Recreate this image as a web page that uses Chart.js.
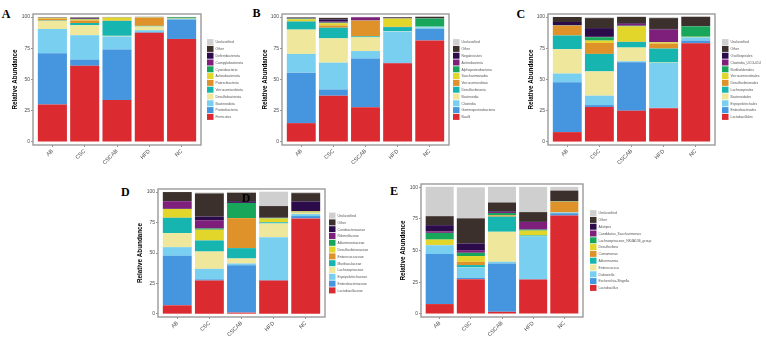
<!DOCTYPE html>
<html>
<head>
<meta charset="utf-8">
<script src="https://cdn.jsdelivr.net/npm/chart.js@4"></script>
<style>
  body { margin: 0; background: #fff; width: 767px; height: 349px; overflow: hidden; position: relative; }
  canvas { position: absolute; }
  .tag { position: absolute; font: bold 12px "Liberation Serif", serif; line-height: 12px; color: #000; }
</style>
</head>
<body>
<div class="tag" style="left:1.7px;top:7.9px">A</div>
<div class="tag" style="left:252.5px;top:7.2px">B</div>
<div class="tag" style="left:516.5px;top:7.9px">C</div>
<div class="tag" style="left:121px;top:186px">D</div>
<div class="tag" style="left:390px;top:184.6px">E</div>
<div class="tag" style="left:241.7px;top:191.9px;z-index:2">D</div>
<script>
// groups on the x axis and y tick values
const groups = ['AB', 'CSC', 'CSCAB', 'HFD', 'NC'];
const yTicks = [0, 25, 50, 75, 100];

// one colour per stack level, bottom to top
const fill = ['#dc2a31', '#4596de', '#78cff0', '#efe79b', '#17b5b0', '#e0922a',
              '#e2d62a', '#17a65a', '#7e1f7c', '#2b0b4a', '#3b302c', '#cfcfcf'];

// A - phylum (rows bottom to top, columns AB, CSC, CSCAB, HFD, NC)
const phylumNames = ['Firmicutes', 'Proteobacteria', 'Bacteroidota', 'Desulfobacterota', 'Verrucomicrobiota',
  'Patescibacteria', 'Actinobacteriota', 'Cyanobacteria', 'Campylobacterota', 'Deferribacterota', 'Other', 'Unclassified'];
const phylumValues = [
  [30, 61, 33.5, 87.5, 82.5],
  [41, 5, 40.5, 0.5, 15.5],
  [19.5, 19.5, 10.5, 1.5, 0.5],
  [6.5, 8, 0.5, 3, 0.2],
  [0.3, 1.8, 12, 0.5, 0.1],
  [1.5, 2, 0.3, 6.5, 0.1],
  [0.6, 0.8, 2.4, 0.3, 0.1],
  [0.1, 0.3, 0.1, 0.1, 0.8],
  [0.1, 0.3, 0.1, 0.1, 0.1],
  [0.1, 0.5, 0.1, 0.1, 0.1],
  [0.2, 0.5, 0.1, 0.1, 0.1],
  [0.1, 0.1, 0.1, 0.1, 0.1]
];

// B - class
const classNames = ['Bacilli', 'Gammaproteobacteria', 'Clostridia', 'Bacteroidia', 'Desulfovibrionia',
  'Verrucomicrobiae', 'Saccharimonadia', 'Alphaproteobacteria', 'Actinobacteria', 'Negativicutes', 'Other', 'Unclassified'];
const classValues = [
  [15, 37, 27.8, 63, 81.3],
  [40.5, 5, 39, 0.5, 9.3],
  [15, 21.5, 6, 25, 1],
  [19.5, 19.5, 11, 0.3, 0.2],
  [6.5, 8.5, 0.8, 3.2, 0.8],
  [0.3, 1.8, 12.5, 0.3, 0.1],
  [1.5, 1.8, 0.1, 6.5, 0.2],
  [0.5, 0.5, 0.1, 0.2, 6],
  [0.3, 0.8, 2.5, 0.3, 0.1],
  [0.3, 1.8, 0.1, 0.2, 0.1],
  [0.4, 1.2, 0.2, 0.5, 1.2],
  [0.1, 0.1, 0.1, 0.1, 0.1]
];

// C - order
const orderNames = ['Lactobacillales', 'Enterobacterales', 'Erysipelotrichales', 'Bacteroidales', 'Lachnospirales',
  'Desulfovibrionales', 'Verrucomicrobiales', 'Burkholderiales', 'Clostridia_UCG-014', 'Oscillospirales', 'Other', 'Unclassified'];
const orderValues = [
  [7.8, 28, 25, 27, 79],
  [40, 1.5, 38.8, 0.3, 2.2],
  [7, 7.5, 0.8, 36, 2.4],
  [19.5, 19.5, 11, 0.3, 0.2],
  [11, 14, 4.5, 11.2, 0.3],
  [7.7, 8.8, 0.2, 4, 0.1],
  [0.2, 1.9, 12.3, 1, 0.1],
  [0.1, 2.7, 0.5, 0.2, 8.3],
  [0.1, 0.3, 1.5, 10, 0.1],
  [2.7, 7, 0.6, 0.5, 0.1],
  [4, 8, 5, 8.7, 7.5],
  [0.1, 0.8, 0.2, 0.8, 0.1]
];

// D - family
const familyNames = ['Lactobacillaceae', 'Enterobacteriaceae', 'Erysipelotrichaceae', 'Lachnospiraceae', 'Muribaculaceae',
  'Enterococcaceae', 'Desulfovibrionaceae', 'Akkermansiaceae', 'Rikenellaceae', 'Coriobacteriaceae', 'Other', 'Unclassified'];
const familyValues = [
  [7.1, 27.4, 1.1, 27.4, 78.4],
  [40.6, 1, 38.9, 0.3, 1.9],
  [7.1, 8.6, 1.4, 35.3, 1.6],
  [11.5, 14.2, 4.1, 11.2, 1.1],
  [12.6, 9.1, 8.5, 1, 0.2],
  [0.1, 0.1, 24.6, 0.1, 0.1],
  [7.1, 8.7, 0.1, 3, 0.8],
  [0.1, 1, 12.3, 0.5, 0.1],
  [6.3, 6.8, 0.1, 0.1, 0.1],
  [0.1, 3, 1.4, 0.1, 8],
  [7.4, 19, 6.9, 9.5, 6.8],
  [0.1, 0.8, 0.8, 11.8, 1]
];

// E - genus
const genusNames = ['Lactobacillus', 'Escherichia-Shigella', 'Dubosiella', 'Enterococcus', 'Akkermansia',
  'Comamonas', 'Desulfovibrio', 'Lachnospiraceae_NK4A136_group', 'Candidatus_Saccharimonas', 'Alistipes', 'Other', 'Unclassified'];
const genusValues = [
  [7.7, 27.4, 1.6, 27.2, 77.6],
  [39.5, 1, 38.2, 0.3, 1.8],
  [6.9, 8.2, 1.3, 33.5, 0.5],
  [0.1, 0.1, 23.7, 0.1, 0.1],
  [0.1, 1.8, 11.9, 0.8, 0.1],
  [0.1, 2.6, 1, 0.1, 8.4],
  [4.2, 4.5, 0.1, 3.7, 0.1],
  [5.3, 2.6, 1.8, 0.8, 0.3],
  [1.3, 2.1, 0.8, 6, 0.1],
  [4.8, 5.3, 0.5, 0.1, 0.1],
  [7.1, 19.8, 7, 7.7, 8.2],
  [23.2, 24.5, 12.4, 19.9, 2.9]
];

// canvas box [x, y, w, h] and plot frame [left, top, right, bottom] in page pixels
const panels = [
  { names: phylumNames, values: phylumValues, box: [0, 0, 250, 175], area: [33, 14, 201, 145], titleX: 15.5, gap: 6 },
  { names: classNames, values: classValues, box: [250, 0, 255, 175], area: [282, 14, 449, 145], titleX: 15.5, gap: 4 },
  { names: orderNames, values: orderValues, box: [505, 0, 262, 175], area: [548, 14, 715, 145], titleX: 26, gap: 7 },
  { names: familyNames, values: familyValues, box: [115, 175, 270, 174], area: [158, 189, 325, 317], titleX: 25, gap: 4 },
  { names: genusNames, values: genusValues, box: [385, 175, 275, 174], area: [421, 184, 583, 317], titleX: 18.3, gap: 7 }
];

// grey box round the plot area
const frame = {
  id: 'frame',
  afterDatasetsDraw(chart) {
    const { ctx, chartArea: a } = chart;
    ctx.save();
    ctx.strokeStyle = '#9a9a9a';
    ctx.lineWidth = 1.4;
    ctx.strokeRect(a.left, a.top, a.right - a.left, a.bottom - a.top);
    ctx.restore();
  }
};

// ggplot style legend: top entry is the last stack level
const sideLegend = {
  id: 'sideLegend',
  afterDraw(chart, args, opts) {
    const { ctx, chartArea: a } = chart;
    const sets = chart.data.datasets.slice().reverse();
    const rowH = 6.8;
    let y = (a.top + a.bottom) / 2 - sets.length * rowH / 2;
    const x = a.right + opts.gap;
    ctx.save();
    ctx.font = '3.4px "Liberation Sans"';
    ctx.textBaseline = 'middle';
    sets.forEach(ds => {
      ctx.fillStyle = ds.backgroundColor;
      ctx.fillRect(x, y + 0.4, 6.5, 6);
      ctx.fillStyle = '#555';
      ctx.fillText(ds.label, x + 8.5, y + rowH / 2 + 0.4);
      y += rowH;
    });
    ctx.restore();
  }
};

const tickFont = { family: 'Liberation Sans', size: 5 };

function makeChart(p) {
  const [x0, y0, w, h] = p.box;
  const [l, t, r, b] = p.area;
  const canvas = document.createElement('canvas');
  canvas.width = w;
  canvas.height = h;
  canvas.style.left = x0 + 'px';
  canvas.style.top = y0 + 'px';
  document.body.appendChild(canvas);

  new Chart(canvas, {
    type: 'bar',
    data: {
      datasets: p.names.map((name, k) => ({
        label: name,
        data: p.values[k].map((v, i) => ({ x: i + 1, y: v })),
        backgroundColor: fill[k],
        borderWidth: 0,
        barPercentage: 0.9,
        categoryPercentage: 1
      }))
    },
    options: {
      responsive: false,
      animation: false,
      layout: { padding: { left: 0, top: t - y0, right: x0 + w - r, bottom: 0 } },
      plugins: {
        legend: { display: false },
        tooltip: { enabled: false },
        sideLegend: { gap: p.gap }
      },
      scales: {
        x: {
          type: 'linear',
          stacked: true,
          min: 0.4,
          max: 5.6,
          offset: false,
          afterBuildTicks: s => { s.ticks = groups.map((g, i) => ({ value: i + 1 })); },
          afterFit: s => { s.height = y0 + h - b; },
          ticks: {
            callback: v => groups[v - 1],
            minRotation: 45, maxRotation: 45, autoSkip: false,
            padding: 1, color: '#4d4d4d', font: { family: 'Liberation Sans', size: 5.5 }
          },
          grid: { drawOnChartArea: false, tickLength: 2, color: '#4d4d4d', lineWidth: 0.6, offset: false },
          border: { display: false }
        },
        y: {
          stacked: true,
          min: -2.5,
          max: 102.5,
          afterBuildTicks: s => { s.ticks = yTicks.map(v => ({ value: v })); },
          afterFit: s => { s.width = l - x0; },
          ticks: { padding: 1, color: '#4d4d4d', font: tickFont },
          grid: { drawOnChartArea: false, tickLength: 2, color: '#4d4d4d', lineWidth: 0.6 },
          border: { display: false },
          title: {
            display: true,
            text: 'Relative Abundance',
            color: '#000',
            font: { family: 'Liberation Sans', size: 6.3, weight: 'bold' },
            padding: { top: p.titleX - 3.8, bottom: 0 }
          }
        }
      }
    },
    plugins: [frame, sideLegend]
  });
}

panels.forEach(makeChart);
</script>
</body>
</html>
